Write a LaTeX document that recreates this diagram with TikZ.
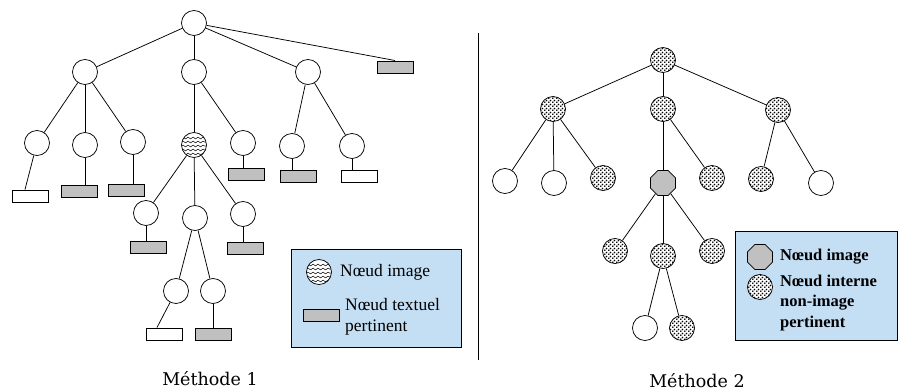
\documentclass[tikz,border=0pt]{standalone}
\usepackage{fontspec}
\setmainfont{Liberation Serif}
\newfontfamily\methfont{DejaVu Serif}
\usetikzlibrary{shapes.geometric,patterns.meta,decorations.pathmorphing}
\definecolor{boxblue}{RGB}{196,222,244}
\definecolor{nodegrey}{RGB}{192,192,192}
\tikzdeclarepattern{name=bigdots, type=uncolored,
  bounding box={(0pt,0pt) and (4pt,4pt)},
  tile size={(4pt,4pt)},
  code={\fill (1pt,1pt) circle (1.1pt); \fill (3pt,3pt) circle (1.1pt);}}
\tikzset{
  plainnode/.style={circle, draw, line width=0.75pt, minimum size=25pt, inner sep=0pt, fill=white},
  dotnode/.style={circle, draw, line width=0.75pt, minimum size=25pt, inner sep=0pt,
    preaction={fill=white}, pattern=bigdots},
  wavynode/.style={circle, draw, line width=0.75pt, minimum size=25pt, inner sep=0pt, fill=white,
    path picture={\foreach \dy in {-9,-5,-1,3,7}{
      \draw[line width=0.5pt, decorate, decoration={snake, amplitude=0.9pt, segment length=5pt}]
        ([yshift=\dy pt]path picture bounding box.west) -- ([yshift=\dy pt]path picture bounding box.east);}}},
  imgnode/.style={regular polygon, regular polygon sides=8, draw, line width=0.75pt, fill=nodegrey,
    minimum size=27pt, inner sep=0pt},
  greyrect/.style={rectangle, draw, line width=1pt, fill=nodegrey, minimum width=36pt, minimum height=12pt, inner sep=0pt},
  whiterect/.style={rectangle, draw, line width=1pt, fill=white, minimum width=36pt, minimum height=12pt, inner sep=0pt},
  link/.style={line width=0.75pt},
  legendbox/.style={draw, line width=0.75pt, fill=boxblue},
  legtext/.style={font=\fontsize{17.5}{21}\selectfont, anchor=west, align=left, inner sep=0pt},
  legtextb/.style={font=\fontsize{16.5}{20.5}\selectfont\bfseries, anchor=west, align=left, inner sep=0pt},
  methlabel/.style={font=\methfont\fontsize{17.5}{19}\selectfont, inner sep=0pt}
}
\begin{document}
\begin{tikzpicture}[x=1pt, y=-1pt]
\useasboundingbox (0,0) rectangle (899,391);
% ---------- Method 1 ----------
\node[plainnode] (r) at (194,23) {};
\node[plainnode] (a1) at (85,72) {};
\node[plainnode] (a2) at (194,72) {};
\node[plainnode] (a3) at (308,72) {};
\node[greyrect] (ar) at (395,67) {};
\node[plainnode] (b1) at (37,143) {};
\node[plainnode] (b2) at (85,145) {};
\node[plainnode] (b3) at (133,142) {};
\node[wavynode] (w) at (194,145) {};
\node[plainnode] (b5) at (243,143) {};
\node[plainnode] (b6) at (292,146) {};
\node[plainnode] (b7) at (352,146) {};
\node[whiterect] (t1) at (30,196) {};
\node[greyrect] (t2) at (79,191) {};
\node[greyrect] (t3) at (126,190) {};
\node[greyrect] (t5) at (246,174) {};
\node[greyrect] (t6) at (298,176) {};
\node[whiterect] (t7) at (359,176) {};
\node[plainnode] (c1) at (146,213) {};
\node[plainnode] (c2) at (195,218) {};
\node[plainnode] (c3) at (243,214) {};
\node[greyrect] (u1) at (148,247) {};
\node[greyrect] (u3) at (245,248) {};
\node[plainnode] (d1) at (176,291) {};
\node[plainnode] (d2) at (213,291) {};
\node[whiterect] (v1) at (164,334) {};
\node[greyrect] (v2) at (213,334) {};
\draw[link] (r) -- (a1);
\draw[link] (r) -- (a2);
\draw[link] (r) -- (a3);
\draw[link] (r) -- (ar.north);
\draw[link] (a1) -- (b1);
\draw[link] (a1) -- (b2);
\draw[link] (a1) -- (b3);
\draw[link] (a2) -- (w);
\draw[link] (a2) -- (b5);
\draw[link] (a3) -- (b6);
\draw[link] (a3) -- (b7);
\draw[link] (b1) -- ([xshift=-5pt]t1.north);
\draw[link] (b2) -- (b2 |- t2.north);
\draw[link] (b3) -- (b3 |- t3.north);
\draw[link] (b5) -- (b5 |- t5.north);
\draw[link] (b6) -- (b6 |- t6.north);
\draw[link] (b7) -- (b7 |- t7.north);
\draw[link] (w) -- (c1);
\draw[link] (w) -- (c2);
\draw[link] (w) -- (c3);
\draw[link] (c1) -- (c1 |- u1.north);
\draw[link] (c3) -- (c3 |- u3.north);
\draw[link] (c2) -- (d1);
\draw[link] (c2) -- (d2);
\draw[link] (d1) -- ([xshift=-7pt]v1.north);
\draw[link] (d2) -- (d2 |- v2.north);
% legend 1
\node[legendbox, minimum width=170pt, minimum height=98pt, inner sep=0pt] (lg1) at (376,298) {};
\node[wavynode] (lw) at (319,272) {};
\node[legtext] (lwt) at (340,272) {Nœud image};
\node[greyrect] (lr) at (321,315) {};
\node[legtext] (lrt) at (345,317) {Nœud textuel\\pertinent};
% separator
\coordinate (s1) at (478,33);
\coordinate (s2) at (478,360);
\draw[line width=0.8pt] (s1) -- (s2);
% ---------- Method 2 ----------
\node[dotnode] (R) at (663,60) {};
\node[dotnode] (A1) at (553,109) {};
\node[dotnode] (A2) at (663,109) {};
\node[dotnode] (A3) at (778,110) {};
\node[plainnode] (B1) at (505,181) {};
\node[plainnode] (B2) at (554,183) {};
\node[dotnode] (B3) at (603,178) {};
\node[imgnode] (G) at (663,183) {};
\node[dotnode] (B5) at (712,178) {};
\node[dotnode] (B6) at (761,179) {};
\node[plainnode] (B7) at (821,183) {};
\node[dotnode] (C1) at (615,251) {};
\node[dotnode] (C2) at (663,256) {};
\node[dotnode] (C3) at (712,251) {};
\node[plainnode] (D1) at (645,328) {};
\node[dotnode] (D2) at (682,328) {};
\draw[link] (R) -- (A1);
\draw[link] (R) -- (A2);
\draw[link] (R) -- (A3);
\draw[link] (A1) -- (B1);
\draw[link] (A1) -- (B2);
\draw[link] (A1) -- (B3);
\draw[link] (A2) -- (G);
\draw[link] (A2) -- (B5);
\draw[link] (A3) -- (B6);
\draw[link] (A3) -- (B7);
\draw[link] (G) -- (C1);
\draw[link] (G) -- (C2);
\draw[link] (G) -- (C3);
\draw[link] (C2) -- (D1);
\draw[link] (C2) -- (D2);
% legend 2
\node[legendbox, minimum width=162pt, minimum height=109pt, inner sep=0pt] (lg2) at (816,285.5) {};
\node[imgnode] (lg) at (760,257) {};
\node[legtextb] (lgt) at (780,257) {Nœud image};
\node[dotnode] (ld) at (760,287) {};
\node[legtextb] (ldt) at (780,303) {Nœud interne\\non-image\\pertinent};
% titles
\node[methlabel] (m1) at (210,379) {Méthode 1};
\node[methlabel] (m2) at (697,381) {Méthode 2};
\end{tikzpicture}
\end{document}
